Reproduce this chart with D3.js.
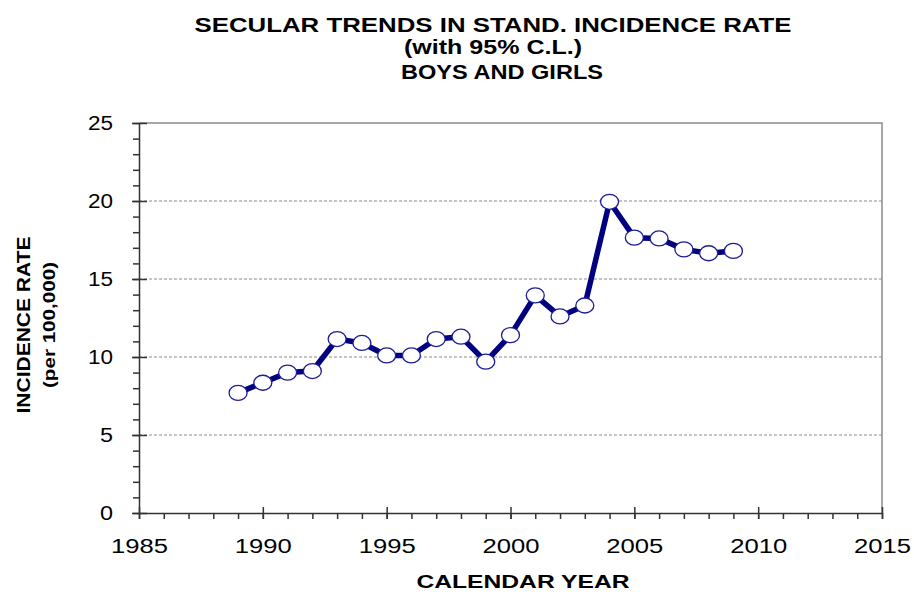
<!DOCTYPE html>
<html>
<head>
<meta charset="utf-8">
<script src="https://cdn.jsdelivr.net/npm/d3@7"></script>
<style>
  body { margin: 0; background: #fff; }
  svg { display: block; font-family: "Liberation Sans", Arial, sans-serif; }
</style>
</head>
<body>
<div id="chart"></div>
<script>
const years = [1989, 1990, 1991, 1992, 1993, 1994, 1995, 1996, 1997, 1998, 1999,
  2000, 2001, 2002, 2003, 2004, 2005, 2006, 2007, 2008, 2009]
const rates = [7.7, 8.35, 9.0, 9.1, 11.15, 10.9, 10.1, 10.1, 11.15, 11.3, 9.7,
  11.4, 13.95, 12.6, 13.3, 19.95, 17.65, 17.6, 16.9, 16.65, 16.8]
const xTicks = [1985, 1990, 1995, 2000, 2005, 2010, 2015]
const yTicks = [0, 5, 10, 15, 20, 25]
const titleLines = ['SECULAR TRENDS IN STAND. INCIDENCE RATE', '(with 95% C.L.)', 'BOYS AND GIRLS']

const W = 914, H = 592
const margin = { top: 123, right: 32, bottom: 79, left: 139 }
const width = W - margin.left - margin.right
const height = H - margin.top - margin.bottom

const svg = d3.select('#chart').append('svg')
  .attr('width', W)
  .attr('height', H)

// title, three lines
const titlePos = [
  { x: 493, y: 32, len: 597 },
  { x: 493, y: 54, len: 178 },
  { x: 502, y: 79, len: 202 }
]
titleLines.forEach((t, i) => {
  svg.append('text')
    .attr('x', titlePos[i].x)
    .attr('y', titlePos[i].y)
    .attr('text-anchor', 'middle')
    .attr('font-weight', 'bold')
    .attr('font-size', 20)
    .attr('textLength', titlePos[i].len)
    .attr('lengthAdjust', 'spacingAndGlyphs')
    .text(t)
})

const g = svg.append('g')
  .attr('transform', `translate(${margin.left},${margin.top})`)

const x = d3.scaleLinear().domain([1985, 2015]).range([0, width])
const y = d3.scaleLinear().domain([0, 25]).range([height, 0])

// dashed gridlines
g.append('g')
  .selectAll('line')
  .data(yTicks.filter(d => d > 0 && d < 25))
  .join('line')
  .attr('x1', 0)
  .attr('x2', width)
  .attr('y1', d => y(d))
  .attr('y2', d => y(d))
  .attr('stroke', '#8a8a8a')
  .attr('stroke-width', 1)
  .attr('stroke-dasharray', '3,2')

// top and right frame
g.append('path')
  .attr('d', `M0,0H${width}V${height}`)
  .attr('fill', 'none')
  .attr('stroke', '#8a8a8a')
  .attr('stroke-width', 1.5)

// minor ticks
g.append('g')
  .attr('transform', `translate(0,${height})`)
  .call(d3.axisBottom(x).tickValues(d3.range(1985, 2016)).tickSize(6).tickFormat(''))
  .call(a => a.select('.domain').remove())
g.append('g')
  .call(d3.axisLeft(y).tickValues(d3.range(0, 26)).tickSize(6).tickFormat(''))
  .call(a => a.select('.domain').remove())

// major ticks and labels
const xAxis = g.append('g')
  .attr('transform', `translate(0,${height})`)
  .call(d3.axisBottom(x).tickValues(xTicks).tickSizeInner(6).tickSizeOuter(0).tickPadding(20).tickFormat(d3.format('d')))
xAxis.selectAll('.tick line').attr('y1', -6)
xAxis.selectAll('.tick text')
  .attr('font-size', 20)
  .attr('font-family', '"Liberation Sans", Arial, sans-serif')
  .attr('textLength', 57)
  .attr('lengthAdjust', 'spacingAndGlyphs')

const yAxis = g.append('g')
  .call(d3.axisLeft(y).tickValues(yTicks).tickSizeInner(7).tickSizeOuter(0).tickPadding(19))
yAxis.selectAll('.tick line').attr('x1', 8)
yAxis.selectAll('.tick text')
  .attr('font-size', 20)
  .attr('font-family', '"Liberation Sans", Arial, sans-serif')
  .attr('textLength', d => d >= 10 ? 25 : 13)
  .attr('lengthAdjust', 'spacingAndGlyphs')

g.selectAll('.domain, .tick line')
  .attr('stroke', '#333')
  .attr('stroke-width', 1.5)
g.selectAll('.tick text').attr('fill', '#000')

// line and markers
const pts = years.map((yr, i) => ({ yr: yr, v: rates[i] }))
const line = d3.line().x(d => x(d.yr)).y(d => y(d.v))

g.append('path')
  .datum(pts)
  .attr('d', line)
  .attr('fill', 'none')
  .attr('stroke', '#000080')
  .attr('stroke-width', 5.5)
  .attr('stroke-linejoin', 'round')

g.selectAll('ellipse')
  .data(pts)
  .join('ellipse')
  .attr('cx', d => x(d.yr))
  .attr('cy', d => y(d.v))
  .attr('rx', 9)
  .attr('ry', 7.5)
  .attr('fill', '#fff')
  .attr('stroke', '#1c1c96')
  .attr('stroke-width', 1.3)

// axis titles
svg.append('text')
  .attr('x', 523)
  .attr('y', 588)
  .attr('text-anchor', 'middle')
  .attr('font-weight', 'bold')
  .attr('font-size', 18)
  .attr('textLength', 213)
  .attr('lengthAdjust', 'spacingAndGlyphs')
  .text('CALENDAR YEAR')

svg.append('text')
  .attr('transform', 'translate(30,325) rotate(-90)')
  .attr('text-anchor', 'middle')
  .attr('font-weight', 'bold')
  .attr('font-size', 18)
  .attr('textLength', 177)
  .attr('lengthAdjust', 'spacingAndGlyphs')
  .text('INCIDENCE RATE')

svg.append('text')
  .attr('transform', 'translate(55,325) rotate(-90)')
  .attr('text-anchor', 'middle')
  .attr('font-weight', 'bold')
  .attr('font-size', 16)
  .attr('textLength', 126)
  .attr('lengthAdjust', 'spacingAndGlyphs')
  .text('(per 100,000)')
</script>
</body>
</html>
